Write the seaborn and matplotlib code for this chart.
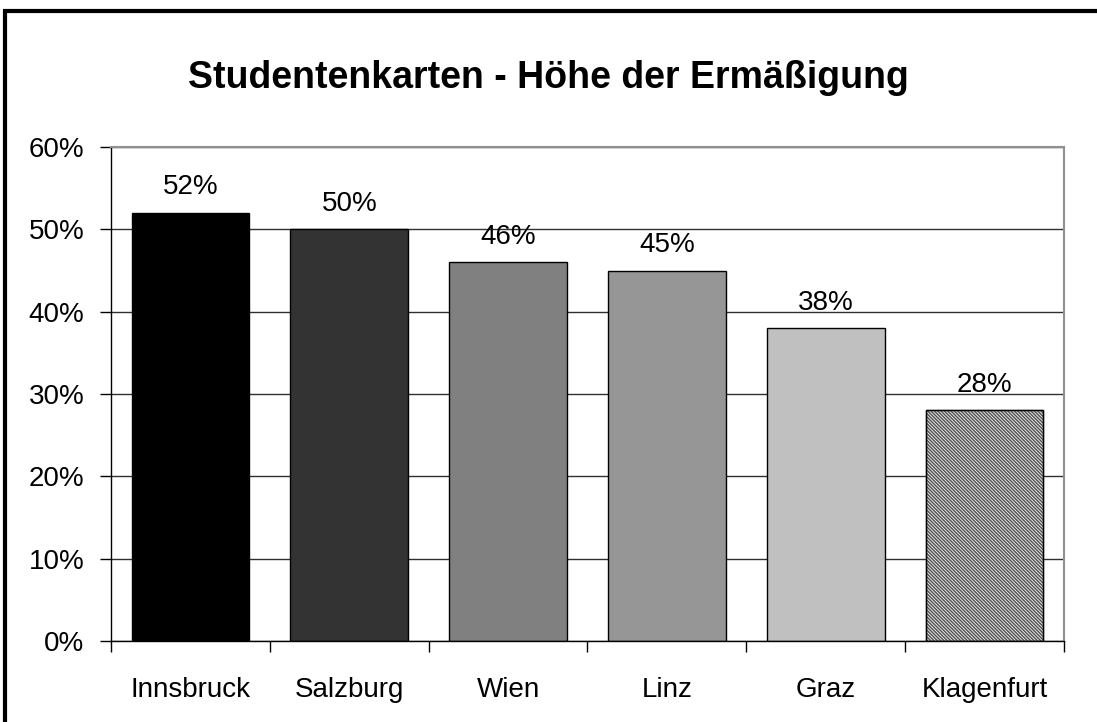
import matplotlib
matplotlib.use("Agg")
import matplotlib.pyplot as plt
import seaborn as sns
import pandas as pd
from matplotlib.patches import Rectangle
from matplotlib.ticker import FuncFormatter, MultipleLocator

cities = ["Innsbruck", "Salzburg", "Wien", "Linz", "Graz", "Klagenfurt"]
values = [52, 50, 46, 45, 38, 28]
colors = ["#000000", "#333333", "#808080", "#969696", "#C0C0C0", "#A8A8A8"]

sns.set_theme(style="white")
plt.rcParams["font.family"] = ["Liberation Sans", "DejaVu Sans"]
plt.rcParams["text.color"] = "black"
plt.rcParams["xtick.color"] = "black"
plt.rcParams["ytick.color"] = "black"
plt.rcParams["hatch.linewidth"] = 1.0

df = pd.DataFrame({"city": cities, "value": values})

fig = plt.figure(figsize=(10.97, 7.22), dpi=100)
ax = fig.add_axes([111/1097, 1-641/722, (1064-111)/1097, (641-147)/722])

sns.barplot(data=df, x="city", y="value", hue="city", palette=colors,
            legend=False, width=0.74, edgecolor="black", linewidth=1, ax=ax,
            saturation=1)

for i, p in enumerate(ax.patches):
    if i == 5:
        p.set_facecolor("#e8e8e8")
        p.set_hatch("\\\\\\\\\\\\\\\\\\\\")
        p.set_edgecolor("#505050")
        ax.add_patch(Rectangle((p.get_x(), 0), p.get_width(), p.get_height(),
                               fill=False, edgecolor="black", linewidth=1, zorder=5))

for i, v in enumerate(values):
    ax.annotate(f"{v}%", (i, v), xytext=(0, 9), textcoords="offset points",
                ha="center", va="bottom", fontsize=20, color="black")

ax.set_ylim(0, 60)
ax.set_xlim(-0.5, 5.5)
ax.yaxis.set_major_locator(MultipleLocator(10))
ax.yaxis.set_major_formatter(FuncFormatter(lambda v, p: f"{int(v)}%"))
ax.grid(axis="y", color="#303030", linewidth=1)
ax.set_axisbelow(True)
ax.set_xlabel("")
ax.set_ylabel("")

for s in ["top", "right"]:
    ax.spines[s].set_color("#909090")
    ax.spines[s].set_linewidth(1.5)
for s in ["left", "bottom"]:
    ax.spines[s].set_color("black")
    ax.spines[s].set_linewidth(1)

ax.tick_params(axis="y", which="major", direction="out", length=8, width=1,
               color="black", labelsize=20, pad=11, left=True)
ax.set_xticks(range(6))
ax.set_xticklabels(cities)
ax.tick_params(axis="x", which="major", length=0, labelsize=20, pad=26)
ax.set_xticks([i + 0.5 for i in range(-1, 6)], minor=True)
ax.tick_params(axis="x", which="minor", direction="out", length=8, width=1,
               color="black", bottom=True)

fig.text(0.5, 1 - 78/722, "Studentenkarten - Höhe der Ermäßigung",
         ha="center", va="center", fontsize=27, fontweight="bold", color="black")

fig.patches.append(Rectangle((5/1097, -0.05), 1.1, 1 - 11/722 + 0.05,
                             transform=fig.transFigure, fill=False,
                             edgecolor="black", linewidth=3))

fig.savefig("out.png", dpi=100)
